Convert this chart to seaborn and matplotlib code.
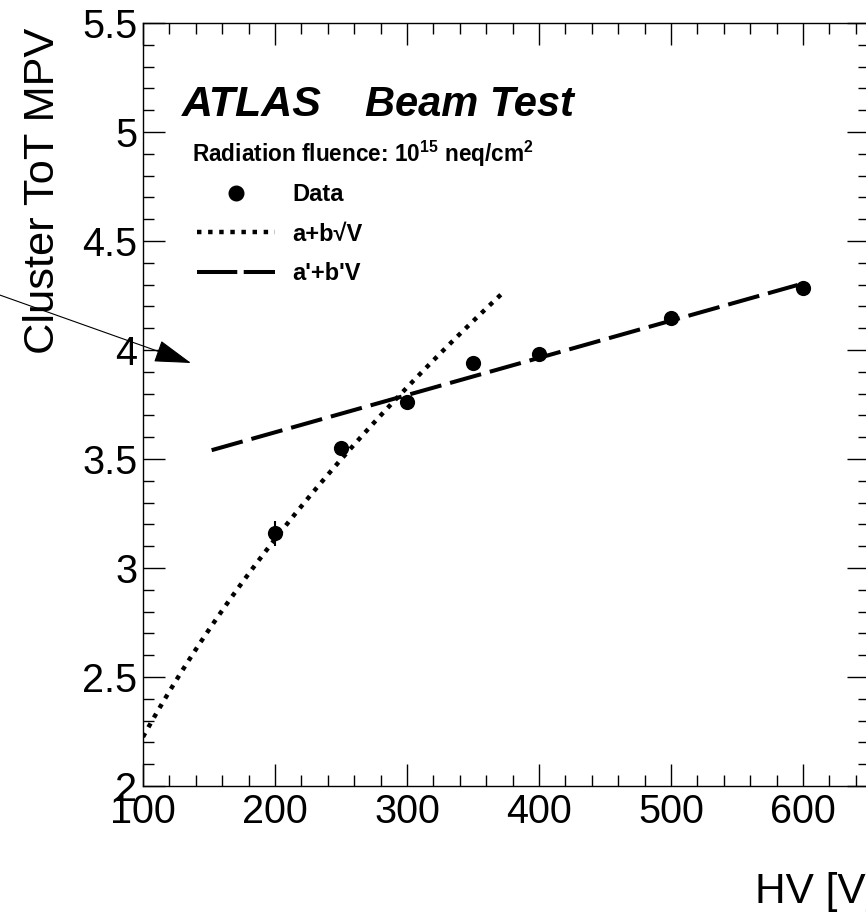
import numpy as np
import pandas as pd
import matplotlib.pyplot as plt
import seaborn as sns
from matplotlib.lines import Line2D
from matplotlib.ticker import MultipleLocator

# measured cluster ToT MPV vs bias voltage
hv = [200, 250, 300, 350, 400, 500, 600]
tot_mpv = [3.159, 3.552, 3.760, 3.939, 3.982, 4.145, 4.283]
tot_err = [0.057, 0.02, 0.02, 0.02, 0.02, 0.03, 0.03]

# fit parameters: a + b*sqrt(V) and a' + b'*V
sqrt_a, sqrt_b = 0.035, 0.219
sqrt_range = (100, 373.5)
lin_a, lin_b = 3.281, 0.001707
lin_range = (152, 596)

df = pd.DataFrame({"hv": hv, "mpv": tot_mpv, "err": tot_err})

v1 = np.linspace(*sqrt_range, 120)
fit_sqrt = pd.DataFrame({"hv": v1, "mpv": sqrt_a + sqrt_b * np.sqrt(v1)})
v2 = np.array(lin_range)
fit_lin = pd.DataFrame({"hv": v2, "mpv": lin_a + lin_b * v2})

sns.set_theme(style="ticks")
plt.rcParams["font.family"] = ["Liberation Sans", "DejaVu Sans"]
plt.rcParams["text.color"] = "black"
plt.rcParams["axes.labelcolor"] = "black"
plt.rcParams["mathtext.fontset"] = "custom"
plt.rcParams["mathtext.rm"] = "Liberation Sans:bold"
plt.rcParams["mathtext.bf"] = "Liberation Sans:bold"

W, H = 866, 915
fig = plt.figure(figsize=(W / 100, H / 100), dpi=100)
ax = fig.add_axes([143 / W, 129 / H, 726 / W, 763 / H])

dotted = (0, (1.0, 1.5))
dashed = (0, (8.0, 2.25))
lw = 2.9

sns.lineplot(data=fit_sqrt, x="hv", y="mpv", ax=ax, color="black", lw=3.2,
             linestyle=dotted, sort=False)
sns.lineplot(data=fit_lin, x="hv", y="mpv", ax=ax, color="black", lw=lw,
             linestyle=dashed, sort=False)
ax.errorbar(df["hv"], df["mpv"], yerr=df["err"], fmt="none", ecolor="black",
            elinewidth=1.5, capsize=0, zorder=3)
sns.scatterplot(data=df, x="hv", y="mpv", ax=ax, color="black", s=120,
                edgecolor="black", linewidth=0, zorder=4)

ax.set_xlim(100, 650)
ax.set_ylim(2, 5.5)
ax.xaxis.set_minor_locator(MultipleLocator(20))
ax.yaxis.set_minor_locator(MultipleLocator(0.1))
ax.set_xticks(range(100, 700, 100))
ax.set_xticklabels([str(t) for t in range(100, 700, 100)])
ax.set_yticks([2, 2.5, 3, 3.5, 4, 4.5, 5, 5.5])
ax.set_yticklabels(["2", "2.5", "3", "3.5", "4", "4.5", "5", "5.5"])
ax.tick_params(which="both", direction="in", top=True, right=True,
               colors="black", labelsize=28.5)
ax.tick_params(which="major", length=15.8, width=1.0)
ax.tick_params(which="minor", length=8.0, width=1.0)
ax.tick_params(axis="x", pad=5)
ax.tick_params(axis="y", pad=4)
for sp in ax.spines.values():
    sp.set_linewidth(1.0)
    sp.set_color("black")
ax.set_xlabel("")
ax.set_ylabel("")

# axis titles, ROOT style (aligned to the axis end)
fig.text(43 / W, 1 - 28 / H, "Cluster ToT MPV", rotation=90, ha="center",
         va="top", fontsize=31.2)
fig.text(755 / W, 12 / H, "HV [V]", ha="left", va="baseline", fontsize=30.5)

fig.text(182 / W, 1 - 116 / H, "ATLAS", ha="left", va="baseline",
         fontsize=31, fontweight="bold", fontstyle="italic")
fig.text(365 / W, 1 - 116 / H, "Beam Test", ha="left", va="baseline",
         fontsize=30, fontweight="bold", fontstyle="italic")
fig.text(192 / W, 1 - 161.7 / H,
         r"Radiation fluence: 10$^{15}$ neq/cm$^{2}$",
         ha="left", va="baseline", fontsize=16.3, fontweight="bold")

handles = [
    Line2D([], [], color="black", marker="o", markersize=10.5, linestyle="none"),
    Line2D([], [], color="black", lw=3.2, linestyle=dotted),
    Line2D([], [], color="black", lw=lw, linestyle=(0, (10.0, 1.6))),
]
labels = ["Data", "a+b\u221aV", "a'+b'V"]
leg = fig.legend(handles, labels, loc="upper left",
                 bbox_to_anchor=(197 / W, 1 - 183 / H), frameon=False,
                 borderpad=0, borderaxespad=0, handlelength=3.3,
                 handletextpad=0.72, labelspacing=0.7,
                 prop={"size": 17, "weight": "bold"})

# arrow coming in from the left edge
ax.annotate("", xy=(191, H - 363), xycoords="figure pixels",
            xytext=(-20, H - 288), textcoords="figure pixels",
            annotation_clip=False,
            arrowprops=dict(arrowstyle="-|>,head_length=2.35,head_width=0.72",
                            mutation_scale=10, color="black", lw=0.8,
                            shrinkA=0, shrinkB=0))

fig.savefig("out.png", dpi=100)
